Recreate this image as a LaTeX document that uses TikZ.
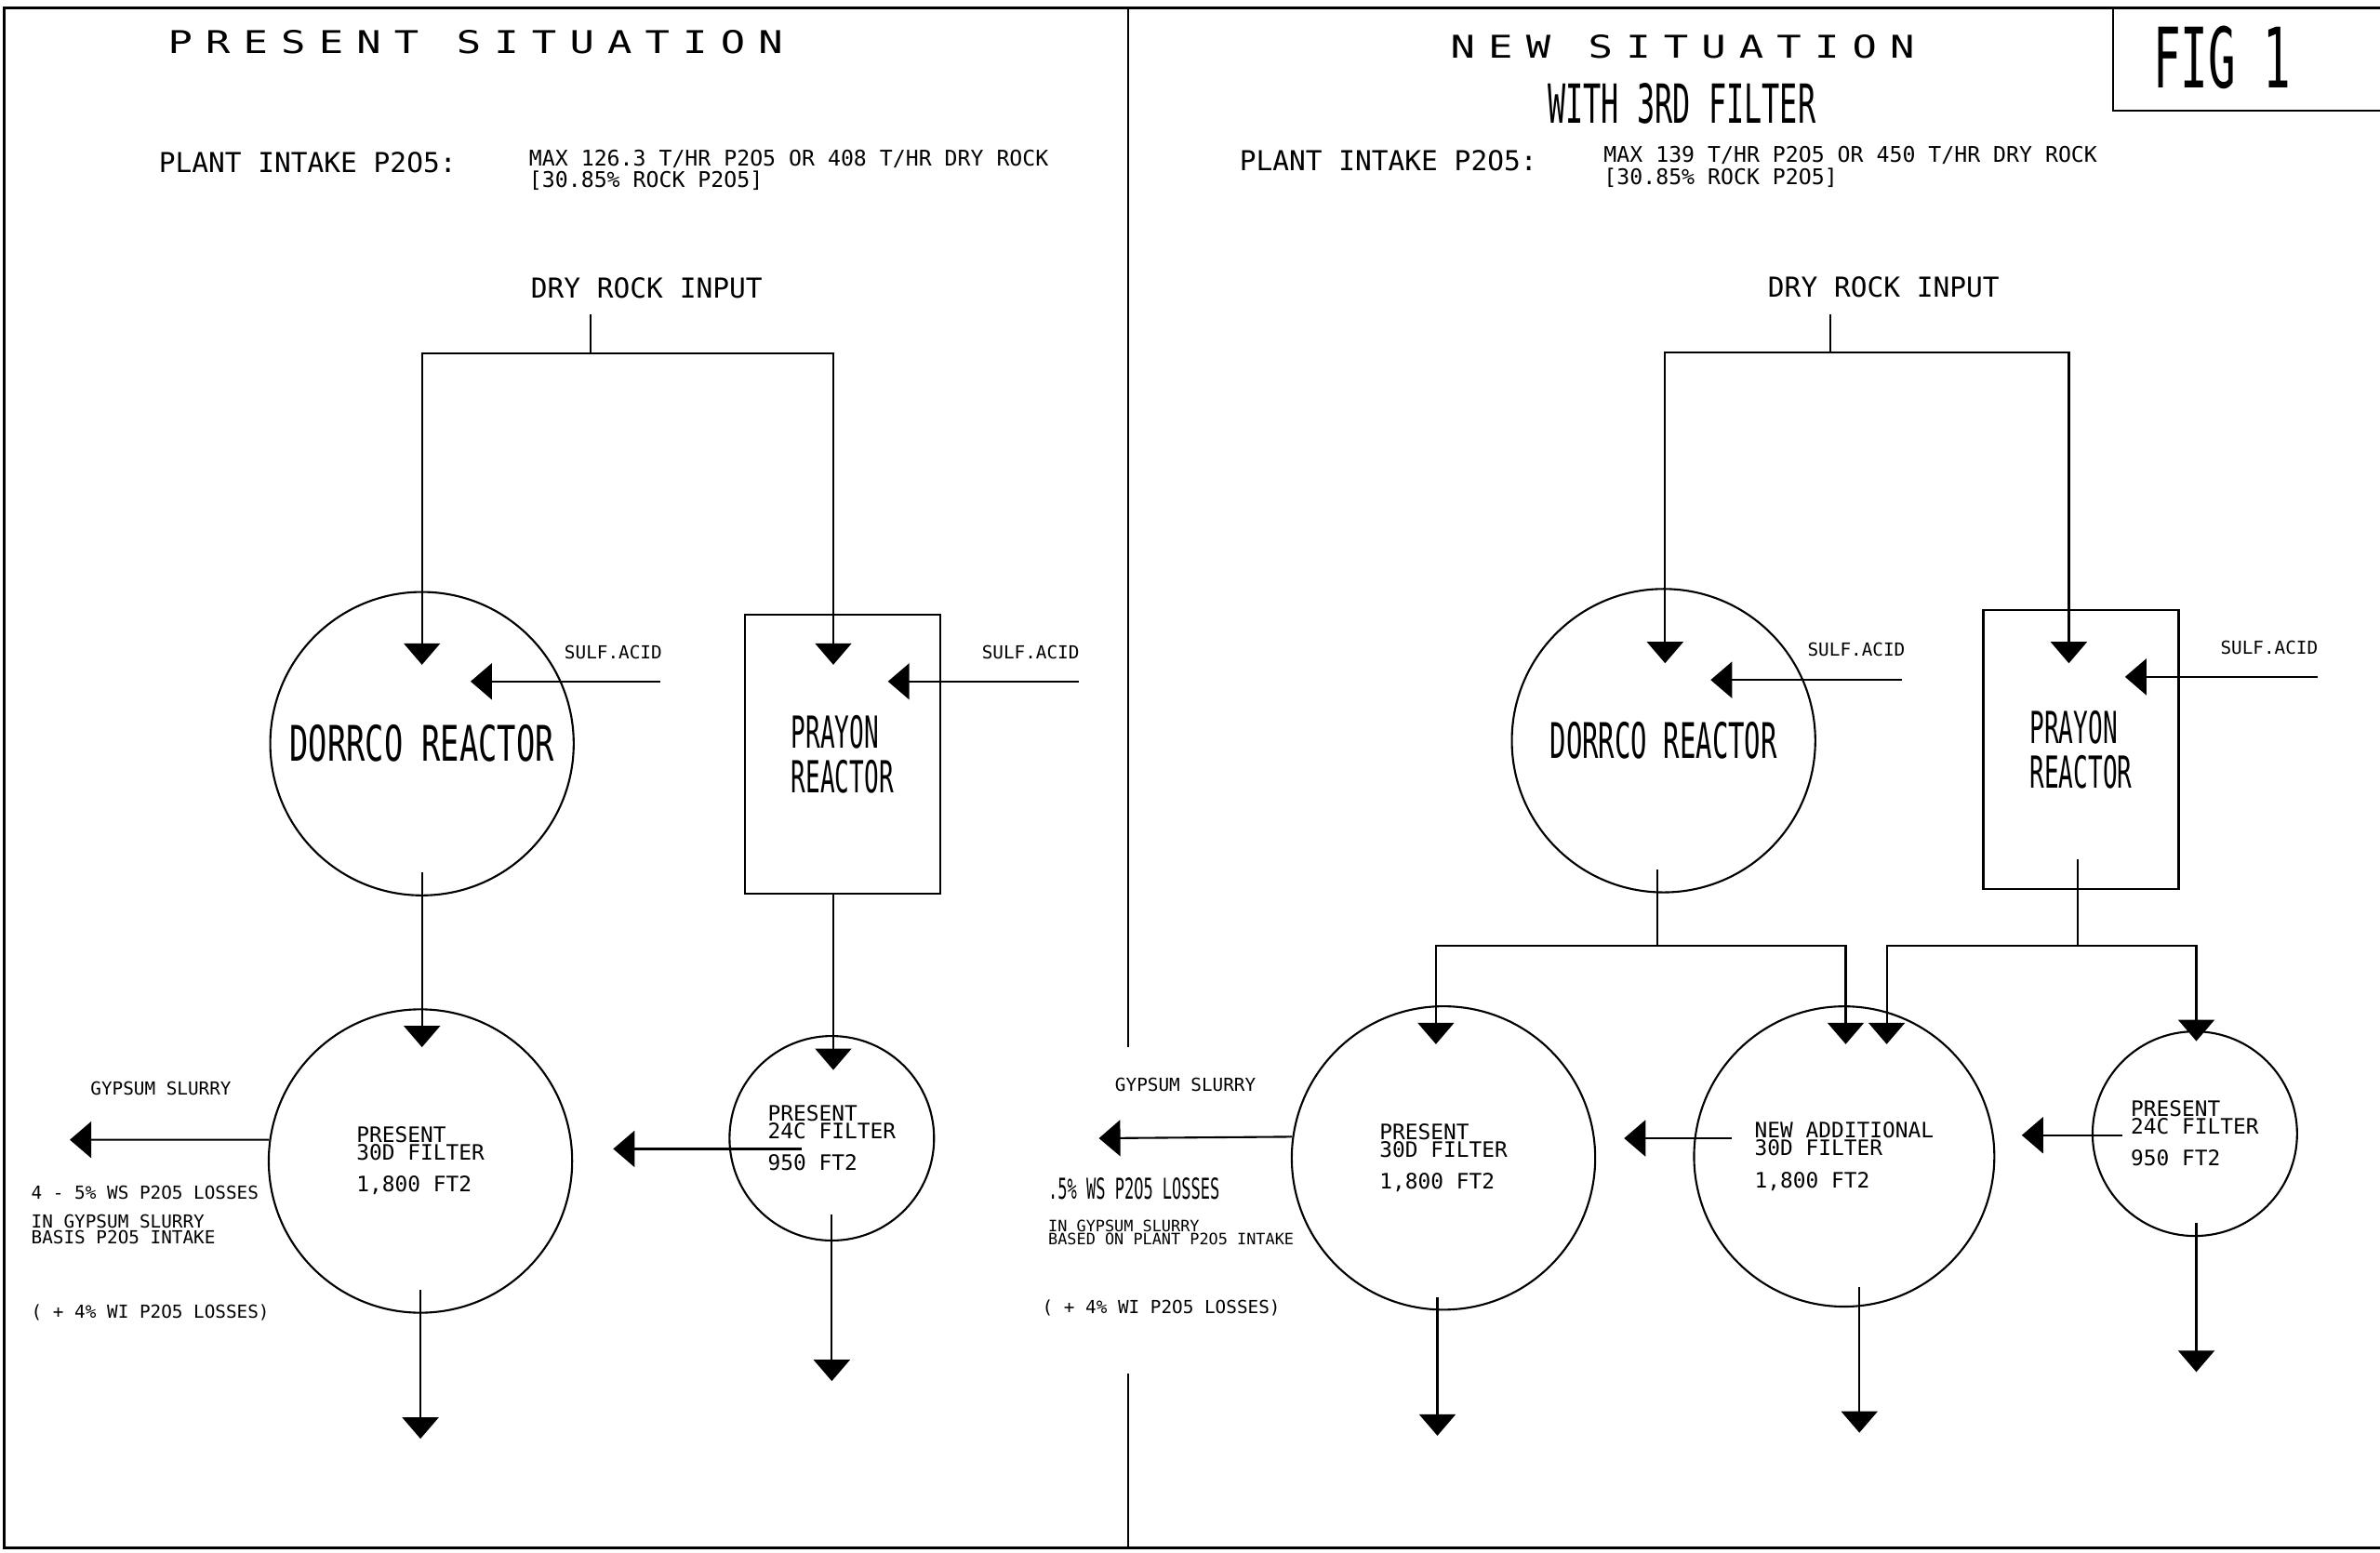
\documentclass[tikz,border=0pt]{standalone}
\usepackage{fontspec}
\usetikzlibrary{positioning,arrows.meta,calc}
\newfontfamily\plotfont{DejaVu Sans Mono}
\newfontfamily\tallfont[FakeStretch=0.55]{DejaVu Sans Mono}
\newfontfamily\reactorfont[FakeStretch=0.64]{DejaVu Sans Mono}
\newfontfamily\spacedfont[FakeStretch=1.3,LetterSpace=42]{DejaVu Sans Mono}

\begin{document}
\begin{tikzpicture}[
  x=0.01632cm, y=-0.01632cm,
  line width=0.6pt,
  >={Triangle[length=2.3mm,width=3.9mm]},
  reactor/.style={draw, circle, minimum size=3.264cm, inner sep=0pt, font=\reactorfont\fontsize{15}{15}\selectfont},
  vessel/.style={draw, rectangle, minimum width=2.1cm, minimum height=3cm, align=left, font=\tallfont\fontsize{13.5}{13.5}\selectfont},
  filter/.style={draw, circle, minimum size=#1, inner sep=0pt, align=left, font=\plotfont\fontsize{6.5}{5.3}\selectfont},
  smalltxt/.style={inner sep=0pt, align=left, font=\plotfont\fontsize{5.5}{4.7}\selectfont},
  headtxt/.style={inner sep=0pt, font=\plotfont\fontsize{8.4}{8.4}\selectfont},
  maxtxt/.style={inner sep=0pt, align=left, font=\plotfont\fontsize{6.6}{5.2}\selectfont},
  titletxt/.style={inner sep=0pt, font=\spacedfont\fontsize{9.6}{9.6}\selectfont}
]
\useasboundingbox (0,0) rectangle (1568,1023);

% Sheet frame, panel divider and figure box
\draw[line width=0.9pt] (1568,5) -- (3,5) -- (3,1020) -- (1568,1020);
\draw (743,5) -- (743,690);
\draw (743,905) -- (743,1020);
\draw (1392,5) -- (1392,73) -- (1568,73);
\node[inner sep=0pt, font=\tallfont\fontsize{25.5}{25.5}\selectfont] (fig) at (1464,38) {FIG 1};

%% ---------------- Present situation ----------------
\node[titletxt, anchor=west] (titleA) at (110,28) {PRESENT SITUATION};
\node[headtxt, anchor=west] (intakeA) at (104,107) {PLANT INTAKE P2O5:};
\node[maxtxt, anchor=west] (maxA) at (348,112) {MAX 126.3 T/HR P2O5 OR 408 T/HR DRY ROCK\\{[}30.85\% ROCK P2O5]};
\node[headtxt] (feedtxtA) at (426,190) {DRY ROCK INPUT};

% Reactors
\node[reactor] (dorrcoA) at (278,490) {DORRCO REACTOR};
\node[vessel] (prayonA) at (555,497) {PRAYON\\REACTOR};

% Filters
\node[filter=3.264cm] (f30A) at (277,765) {PRESENT\\30D FILTER\\[4.5pt]1,800 FT2};
\node[filter=2.2cm] (f24A) at (548,750) {PRESENT\\24C FILTER\\[4.5pt]950 FT2};

% Rock feed
\coordinate (feedA) at (389,207);
\coordinate (splitA) at (389,233);
\coordinate (dorrcoA-in) at (278,438);
\coordinate (prayonA-in) at (549,438);
\draw (feedA) -- (splitA);
\draw[->] (splitA) -| (dorrcoA-in);
\draw[->] (splitA) -| (prayonA-in);

% Sulphuric acid
\node[smalltxt] (acidtxtA1) at (404,430) {SULF.ACID};
\node[smalltxt] (acidtxtA2) at (679,430) {SULF.ACID};
\coordinate (acidA1) at (435,449);
\coordinate (dorrcoA-acid) at (310,449);
\coordinate (acidA2) at (711,449);
\coordinate (prayonA-acid) at (585,449);
\draw[->] (acidA1) -- (dorrcoA-acid);
\draw[->] (acidA2) -- (prayonA-acid);

% Slurry to filters
\coordinate (dorrcoA-out) at (278,575);
\coordinate (f30A-in) at (278,690);
\coordinate (f24A-in) at (549,705);
\draw[->] (dorrcoA-out) -- (f30A-in);
\draw[->] (prayonA.south -| prayonA-in) -- (f24A-in);

% Filtrate and gypsum
\coordinate (f24A-left) at (528,757);
\coordinate (f30A-back) at (404,757);
\coordinate (slurryA) at (46,751);
\draw[->] (f24A-left) -- (f30A-back);
\draw[->] (f30A.172) -- (slurryA);
\node[smalltxt] (gypA) at (106,717) {GYPSUM SLURRY};
\node[smalltxt, anchor=west] (lossA) at (20,786) {4 - 5\% WS P2O5 LOSSES};
\node[smalltxt, anchor=west] (basisA) at (20,810) {IN GYPSUM SLURRY\\BASIS P2O5 INTAKE};
\node[smalltxt, anchor=west] (wiA) at (20,865) {( + 4\% WI P2O5 LOSSES)};

% Product acid
\coordinate (f30A-out) at (277,850);
\coordinate (f30A-end) at (277,948);
\coordinate (f24A-out) at (548,800);
\coordinate (f24A-end) at (548,910);
\draw[->] (f30A-out) -- (f30A-end);
\draw[->] (f24A-out) -- (f24A-end);

%% ---------------- New situation ----------------
\node[titletxt, anchor=west] (titleB) at (955,31) {NEW SITUATION};
\node[inner sep=0pt, font=\tallfont\fontsize{16.5}{16.5}\selectfont] (subB) at (1108,68) {WITH 3RD FILTER};
\node[headtxt, anchor=west] (intakeB) at (816,106) {PLANT INTAKE P2O5:};
\node[maxtxt, anchor=west] (maxB) at (1056,110) {MAX 139 T/HR P2O5 OR 450 T/HR DRY ROCK\\{[}30.85\% ROCK P2O5]};
\node[headtxt] (feedtxtB) at (1241,189) {DRY ROCK INPUT};

% Reactors
\node[reactor, font=\tallfont\fontsize{15}{15}\selectfont] (dorrcoB) at (1096,488) {DORRCO REACTOR};
\node[vessel] (prayonB) at (1371,494) {PRAYON\\REACTOR};

% Filters
\node[filter=3.264cm] (f30B) at (951,763) {PRESENT\\30D FILTER\\[4.5pt]1,800 FT2};
\node[filter=3.23cm] (newB) at (1215,762) {NEW ADDITIONAL\\30D FILTER\\[4.5pt]1,800 FT2};
\node[filter=2.2cm] (f24B) at (1446,747) {PRESENT\\24C FILTER\\[4.5pt]950 FT2};

% Rock feed
\coordinate (feedB) at (1206,207);
\coordinate (splitB) at (1206,232);
\coordinate (dorrcoB-in) at (1097,437);
\coordinate (prayonB-in) at (1363,437);
\draw (feedB) -- (splitB);
\draw[->] (splitB) -| (dorrcoB-in);
\draw[->] (splitB) -| (prayonB-in);

% Sulphuric acid
\node[smalltxt] (acidtxtB1) at (1223,428) {SULF.ACID};
\node[smalltxt] (acidtxtB2) at (1495,427) {SULF.ACID};
\coordinate (acidB1) at (1253,448);
\coordinate (dorrcoB-acid) at (1127,448);
\coordinate (acidB2) at (1527,446);
\coordinate (prayonB-acid) at (1400,446);
\draw[->] (acidB1) -- (dorrcoB-acid);
\draw[->] (acidB2) -- (prayonB-acid);

% Slurry split over three filters
\coordinate (dorrcoB-out) at (1092,573);
\coordinate (branchB) at (1092,623);
\coordinate (f30B-in) at (946,688);
\coordinate (newB-in1) at (1216,688);
\coordinate (prayonB-out) at (1369,566);
\coordinate (branchC) at (1369,623);
\coordinate (newB-in2) at (1243,688);
\coordinate (f24B-in) at (1447,686);
\draw (dorrcoB-out) -- (branchB);
\draw[->] (branchB) -| (f30B-in);
\draw[->] (branchB) -| (newB-in1);
\draw (prayonB-out) -- (branchC);
\draw[->] (branchC) -| (newB-in2);
\draw[->] (branchC) -| (f24B-in);

% Filtrate and gypsum
\coordinate (newB-left) at (1141,750);
\coordinate (f30B-back) at (1070,750);
\coordinate (f24B-left) at (1398,748);
\coordinate (newB-back) at (1332,748);
\coordinate (slurryB) at (724,750);
\draw[->] (newB-left) -- (f30B-back);
\draw[->] (f24B-left) -- (newB-back);
\draw[->] (f30B.172) -- (slurryB);
\node[smalltxt] (gypB) at (781,715) {GYPSUM SLURRY};
\node[inner sep=0pt, anchor=west, font=\tallfont\fontsize{8.8}{8.8}\selectfont] (lossB) at (690,783) {.5\% WS P2O5 LOSSES};
\node[smalltxt, anchor=west, font=\plotfont\fontsize{4.8}{4}\selectfont] (basisB) at (690,812) {IN GYPSUM SLURRY\\BASED ON PLANT P2O5 INTAKE};
\node[smalltxt, anchor=west] (wiB) at (686,862) {( + 4\% WI P2O5 LOSSES)};

% Product acid
\coordinate (f30B-out) at (947,855);
\coordinate (f30B-end) at (947,946);
\coordinate (newB-out) at (1225,848);
\coordinate (newB-end) at (1225,944);
\coordinate (f24B-out) at (1447,806);
\coordinate (f24B-end) at (1447,904);
\draw[->] (f30B-out) -- (f30B-end);
\draw[->] (newB-out) -- (newB-end);
\draw[->] (f24B-out) -- (f24B-end);

\end{tikzpicture}
\end{document}
